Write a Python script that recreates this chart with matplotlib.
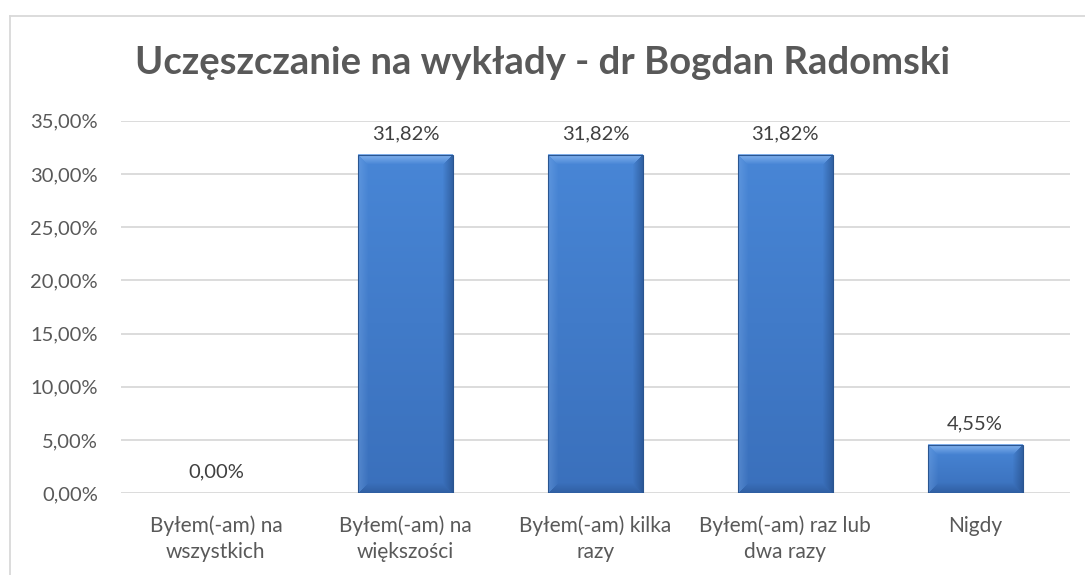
import numpy as np
import matplotlib
matplotlib.use("Agg")
import matplotlib.pyplot as plt
from matplotlib.lines import Line2D
from matplotlib.ticker import FuncFormatter

plt.rcParams["font.family"] = ["Lato", "DejaVu Sans"]

title = "Uczęszczanie na wykłady - dr Bogdan Radomski"
categories = ["Byłem(-am) na\nwszystkich", "Byłem(-am) na\nwiększości",
              "Byłem(-am) kilka\nrazy", "Byłem(-am) raz lub\ndwa razy", "Nigdy"]
values = [0.0, 0.3182, 0.3182, 0.3182, 0.0455]
yticks = [0.0, 0.05, 0.10, 0.15, 0.20, 0.25, 0.30, 0.35]


def pct(v, pos=None):
    return f"{v * 100:.2f}%".replace(".", ",")


W, H = 1085, 575
fig = plt.figure(figsize=(W / 100, H / 100), dpi=100)
ax = fig.add_axes([121 / W, 1 - 493.3 / H, (1070 - 121) / W, (493.3 - 120.7) / H])

# chart frame (runs off the right and bottom edge like the screenshot)
fig.add_artist(Line2D([9.5 / W, 9.5 / W], [0, 1 - 15.5 / H], color="#d9d9d9", lw=1.3,
                      transform=fig.transFigure))
fig.add_artist(Line2D([9.5 / W, 1], [1 - 15.5 / H, 1 - 15.5 / H], color="#d9d9d9", lw=1.3,
                      transform=fig.transFigure))

x = np.arange(len(categories))
bars = ax.bar(x, values, width=0.5, color="none", edgecolor="none", zorder=3)

ax.set_xlim(-0.5, len(categories) - 0.5)
ax.set_ylim(0, 0.35)
ax.set_yticks(yticks)
ax.yaxis.set_major_formatter(FuncFormatter(pct))
ax.set_xticks(x)
ax.set_xticklabels(categories, fontsize=15, color="#595959", linespacing=1.35)
ax.tick_params(axis="y", labelsize=14.5, labelcolor="#595959", length=0, pad=16.5)
ax.tick_params(axis="x", length=0, pad=16)
ax.grid(axis="y", color="#d9d9d9", lw=1.3, zorder=0)
for s in ax.spines.values():
    s.set_visible(False)

# bevelled gradient fill for every bar
ax_h_px = 493.3 - 120.7
bar_w_px = 95
top_c = np.array([0x48, 0x86, 0xd6]) / 255
bot_c = np.array([0x3a, 0x70, 0xbc]) / 255
light = np.array([0x92, 0xbe, 0xf4]) / 255
dark = np.array([0x22, 0x48, 0x80]) / 255
bev = 10
for b, v in zip(bars, values):
    if v <= 0:
        continue
    hpx = int(round(v / 0.35 * ax_h_px))
    t = np.linspace(0, 1, hpx)[:, None, None]
    img = np.broadcast_to(top_c * (1 - t) + bot_c * t, (hpx, bar_w_px, 3)).copy()
    yy, xx = np.mgrid[0:hpx, 0:bar_w_px]
    d_top = yy
    d_bot = hpx - 1 - yy
    d_left = xx
    d_right = bar_w_px - 1 - xx
    dmin = np.minimum.reduce([d_top, d_bot, d_left, d_right])
    m = dmin < bev
    fade = (1 - dmin / bev)[..., None] * 0.8
    top_m = (d_top == dmin) & m
    left_m = (d_left == dmin) & m & ~top_m
    right_m = (d_right == dmin) & m & ~top_m
    bot_m = (d_bot == dmin) & m & ~top_m & ~left_m & ~right_m
    for mask, col, k in [(top_m, light, 1.0), (left_m, light, 0.35),
                         (right_m, dark, 0.7), (bot_m, dark, 0.5)]:
        sel = mask[..., None]
        img = np.where(sel, img * (1 - fade * k) + col * fade * k, img)
    xl = b.get_x()
    ax.imshow(img, extent=[xl, xl + b.get_width(), 0, v], origin="upper",
              aspect="auto", zorder=3, interpolation="bilinear")
    b.set_edgecolor("#2a5590")
    b.set_linewidth(0.8)
    b.set_zorder(4)

for xi, v in zip(x, values):
    ax.annotate(pct(v), (xi, v), xytext=(0, 9), textcoords="offset points",
                ha="center", va="bottom", fontsize=14.5, color="#404040")

ax.set_xlim(-0.5, len(categories) - 0.5)
ax.set_ylim(0, 0.35)

fig.text(0.5, 1 - 63 / H, title, ha="center", va="center", fontsize=27.5,
         fontweight="bold", color="#595959")

fig.savefig("out.png", dpi=100)
